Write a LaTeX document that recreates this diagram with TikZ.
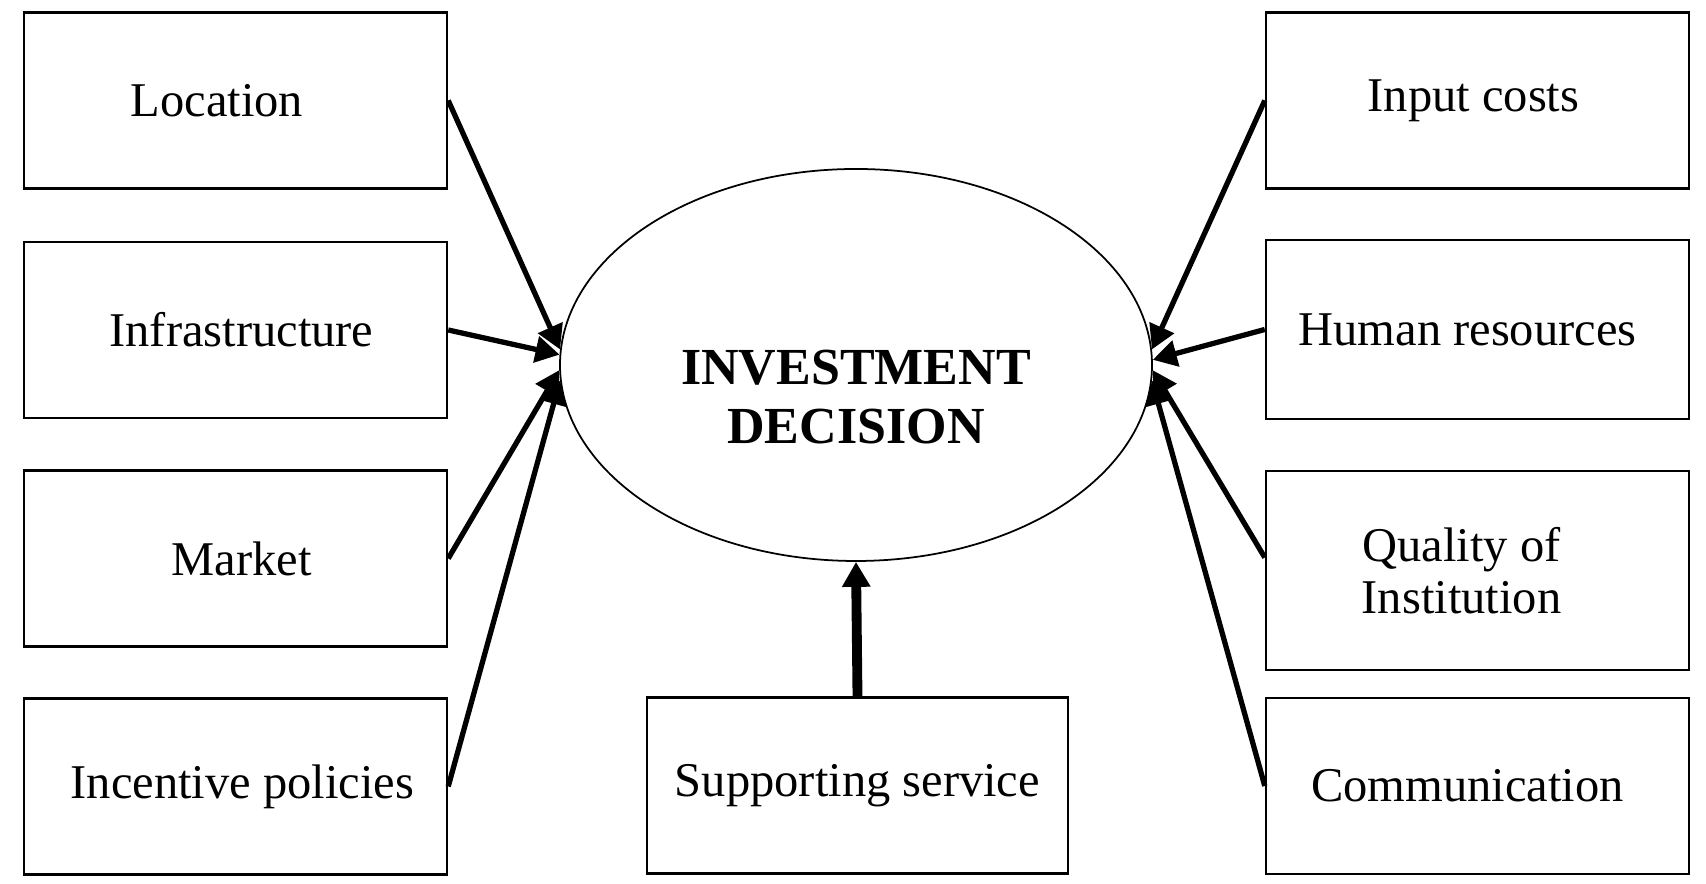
\documentclass[tikz,border=0pt]{standalone}
\usepackage{fontspec}
\setmainfont{Liberation Serif}
\usetikzlibrary{positioning,shapes,arrows.meta}

\begin{document}
\begin{tikzpicture}[factor/.style={draw, line width=0.7pt, minimum width=4.23cm, minimum height=1.76cm, inner sep=0pt, align=center, font=\fontsize{13.8}{14.8}\selectfont},
		link/.style={-{Triangle[length=2.4mm,width=2.6mm]}, line width=1.5pt}]
				\useasboundingbox (0,0) rectangle (17.06,8.84);
				\node[ellipse, draw, line width=0.5pt, minimum width=5.92cm, minimum height=3.92cm, inner sep=0pt, align=center, font=\fontsize{14.8}{17}\selectfont\bfseries] (dec) at (8.56,5.19) {\rule{0pt}{28pt}INVESTMENT\\DECISION};
				\node[factor] (loc) at (2.355,7.835) {Location\hspace*{0.37cm}};
				\node[factor] (infra) at (2.355,5.54) {\hspace*{0.12cm}Infrastructure};
				\node[factor] (market) at (2.355,3.255) {\hspace*{0.12cm}Market};
				\node[factor] (incent) at (2.355,0.975) {\hspace*{0.14cm}Incentive policies};
				\node[factor] (input) at (14.775,7.835) {Input costs\hspace*{0.08cm}};
				\node[factor, minimum height=1.79cm] (human) at (14.775,5.545) {Human resources\hspace*{0.2cm}};
				\node[factor, minimum height=1.99cm] (qual) at (14.775,3.135) {Quality of\hspace*{0.32cm}\\Institution\hspace*{0.32cm}};
				\node[factor] (comm) at (14.775,0.98) {Communication\hspace*{0.2cm}};
				\node[factor, minimum width=4.21cm] (supp) at (8.575,0.985) {Supporting service};
				\draw[link] (loc.east) -- (dec.177);
				\draw[link] (infra.east) -- (dec.178.5);
				\draw[link] (market.east) -- (dec.181.5);
				\draw[link] (incent.east) -- (dec.183);
				\draw[link] (input.west) -- (dec.3);
				\draw[link] (human.west) -- (dec.1.5);
				\draw[link] ([yshift=1.3mm]qual.west) -- (dec.-1.5);
				\draw[link] (comm.west) -- (dec.-3);
				\draw[-{Triangle[length=2.5mm,width=2.7mm]}, line width=2.8pt] (supp.north) -- (dec.south);
			\end{tikzpicture}
\end{document}
